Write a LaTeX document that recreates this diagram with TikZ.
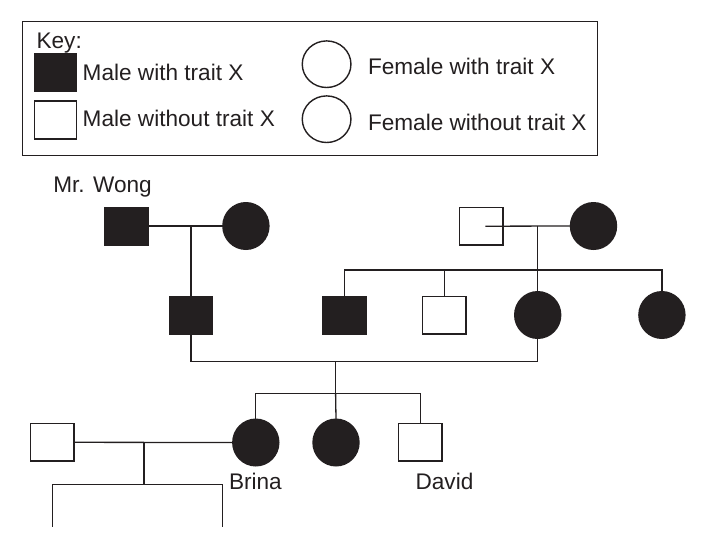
\documentclass[tikz,border=0pt]{standalone}
\usepackage{fontspec}
\setmainfont{Liberation Sans}
\usetikzlibrary{shapes.geometric}
\definecolor{ink}{RGB}{35,31,32}
\begin{document}
\begin{tikzpicture}[x=1pt,y=-1pt,
  every node/.style={inner sep=0pt, outer sep=0pt},
  line/.style={draw=ink, line width=1.3pt},
  male/.style={draw=ink, line width=1.4pt, rectangle, minimum width=43.3pt, minimum height=37.6pt, fill=white},
  affm/.style={male, fill=ink},
  female/.style={draw=ink, line width=1.4pt, ellipse, minimum width=46pt, minimum height=46.6pt, fill=white},
  afff/.style={female, fill=ink},
  lbl/.style={anchor=base west, text=ink, font=\fontsize{22.6}{26}\selectfont}
]
\useasboundingbox (0,0) rectangle (711,547);
% key
\node[draw=ink, line width=1.4pt, rectangle, anchor=north west, minimum width=575pt, minimum height=134pt] (keybox) at (22.4,21.5) {};
\node[lbl] (keytitle) at (36.6,48.5) {Key:};
\node[affm, minimum height=38pt, minimum width=42pt] (k1) at (55.6,72.5) {};
\node[male, minimum height=38pt, minimum width=42pt] (k2) at (55.6,120) {};
\node[female, minimum width=48.7pt] (k3) at (326.6,64.2) {};
\node[female, minimum width=48.7pt] (k4) at (326.6,119.2) {};
\node[lbl] (t1) at (82.7,80.5) {Male with trait X};
\node[lbl] (t2) at (82.7,126.5) {Male without trait X};
\node[lbl] (t3) at (368,74) {Female with trait X};
\node[lbl] (t4) at (368,130.5) {Female without trait X};
% generation 1
\node[lbl] (wonglbl) at (53.3,192) {Mr. Wong};
\node[affm] (A) at (126.7,226) {};
\node[afff] (B) at (245.9,226) {};
\node[male] (C) at (481.4,226.2) {};
\node[afff] (D) at (593.5,226) {};
% generation 2
\node[affm] (I) at (191,315) {};
\node[affm] (F) at (344.4,315) {};
\node[male] (G) at (444.2,315) {};
\node[afff] (E) at (537.7,315) {};
\node[afff] (H) at (661.9,315) {};
% generation 3
\node[male] (M) at (52.4,442.3) {};
\node[afff] (J) at (255.8,442.5) {};
\node[afff] (K) at (336,442.5) {};
\node[male] (L) at (420.3,442.3) {};
\node[lbl] (brina) at (229,489.3) {Brina};
\node[lbl] (david) at (415.6,489.3) {David};
% connectors
\draw[line] (A.east) -- (B.west);
\draw[line] (A.east -| I.north) -- (I.north);
\draw[line] ([xshift=4pt]C.center) -- (D.west);
\draw[line] (C.center -| E.north) -- (E.north);
\coordinate (s1) at (537.7,270);
\draw[line] (F.north) |- (s1) -| (H.north);
\draw[line] (G.north) -- (G.north |- s1);
\coordinate (c2) at (335.6,361.7);
\coordinate (s2) at (335.6,393.7);
\draw[line] (I.south) |- (c2) -| (E.south);
\draw[line] (c2) -- (s2);
\draw[line] (J.north) |- (s2) -| (L.north);
\draw[line] (s2) -- (K.north);
\draw[line] (M.east) -- (J.west);
\coordinate (c3) at (144,442.5);
\coordinate (s3) at (144,484.7);
\coordinate (e1) at (52.8,526.7);
\coordinate (e2) at (222.2,526.7);
\draw[line] (c3) -- (s3);
\draw[line] (e1) |- (s3) -| (e2);
\end{tikzpicture}
\end{document}
